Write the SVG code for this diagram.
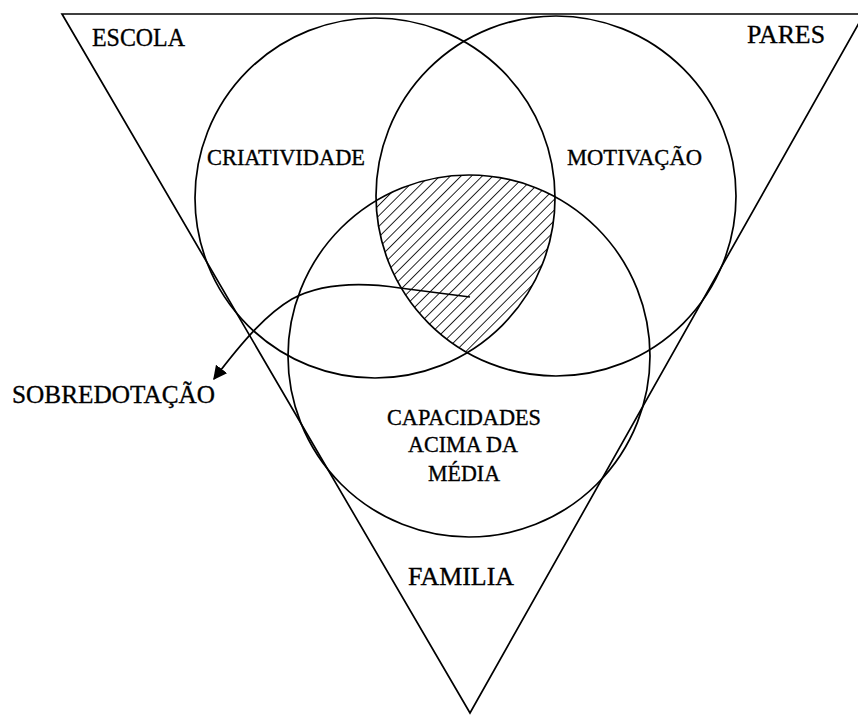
<svg xmlns="http://www.w3.org/2000/svg" width="858" height="716" viewBox="0 0 858 716">
<style>
.ln{fill:none;stroke:#000;stroke-width:1.7}
.t{font-family:"Liberation Serif","Times New Roman",serif;fill:#000;stroke:#000;stroke-width:0.35}
</style>
<defs>
<pattern id="hatch" width="7.5" height="7.5" patternUnits="userSpaceOnUse" patternTransform="rotate(45)">
<line x1="0" y1="0" x2="0" y2="7.5" stroke="#000" stroke-width="1.7"/>
</pattern>
<clipPath id="cL"><circle cx="375" cy="198" r="180"/></clipPath>
<clipPath id="cR"><circle cx="556" cy="196" r="180"/></clipPath>
<marker id="ah" viewBox="0 0 10 10" refX="9" refY="5" markerWidth="14" markerHeight="14" markerUnits="userSpaceOnUse" orient="auto">
<path d="M0,0 L10,5 L0,10 z" fill="#000"/>
</marker>
</defs>
<rect width="858" height="716" fill="#fff"/>
<g id="familia-triangle">
<path class="ln" d="M62,14 L864,14 L470,713 Z"/>
</g>
<g id="hatched-intersection" clip-path="url(#cL)">
<g clip-path="url(#cR)">
<circle cx="469" cy="356" r="181" fill="url(#hatch)"/>
</g>
</g>
<g id="criatividade">
<circle class="ln" cx="375" cy="198" r="180"/>
<text class="t" x="207" y="165" font-size="23" textLength="158" lengthAdjust="spacingAndGlyphs">CRIATIVIDADE</text>
</g>
<g id="motivacao">
<circle class="ln" cx="556" cy="196" r="180"/>
<text class="t" x="567" y="165" font-size="23" textLength="135" lengthAdjust="spacingAndGlyphs">MOTIVAÇÃO</text>
</g>
<g id="capacidades">
<circle class="ln" cx="469" cy="356" r="181"/>
<text class="t" x="464" y="425" font-size="23" text-anchor="middle" textLength="154" lengthAdjust="spacingAndGlyphs">CAPACIDADES</text>
<text class="t" x="463" y="452" font-size="23" text-anchor="middle" textLength="110" lengthAdjust="spacingAndGlyphs">ACIMA DA</text>
<text class="t" x="464" y="481" font-size="23" text-anchor="middle" textLength="72" lengthAdjust="spacingAndGlyphs">MÉDIA</text>
</g>
<g id="escola"><text class="t" x="92" y="46" font-size="26" textLength="93" lengthAdjust="spacingAndGlyphs">ESCOLA</text></g>
<g id="pares"><text class="t" x="747" y="43" font-size="26" textLength="78" lengthAdjust="spacingAndGlyphs">PARES</text></g>
<g id="familia-label"><text class="t" x="408" y="585" font-size="26" textLength="106" lengthAdjust="spacingAndGlyphs">FAMILIA</text></g>
<g id="sobredotacao"><text class="t" x="12" y="403" font-size="26" textLength="203" lengthAdjust="spacingAndGlyphs">SOBREDOTAÇÃO</text></g>
<g id="connectors">
<path class="ln" d="M470,297 L400,288 C360,282 322,283 292,299 C268,313 245,338 214,379" marker-end="url(#ah)"/>
</g>
</svg>
